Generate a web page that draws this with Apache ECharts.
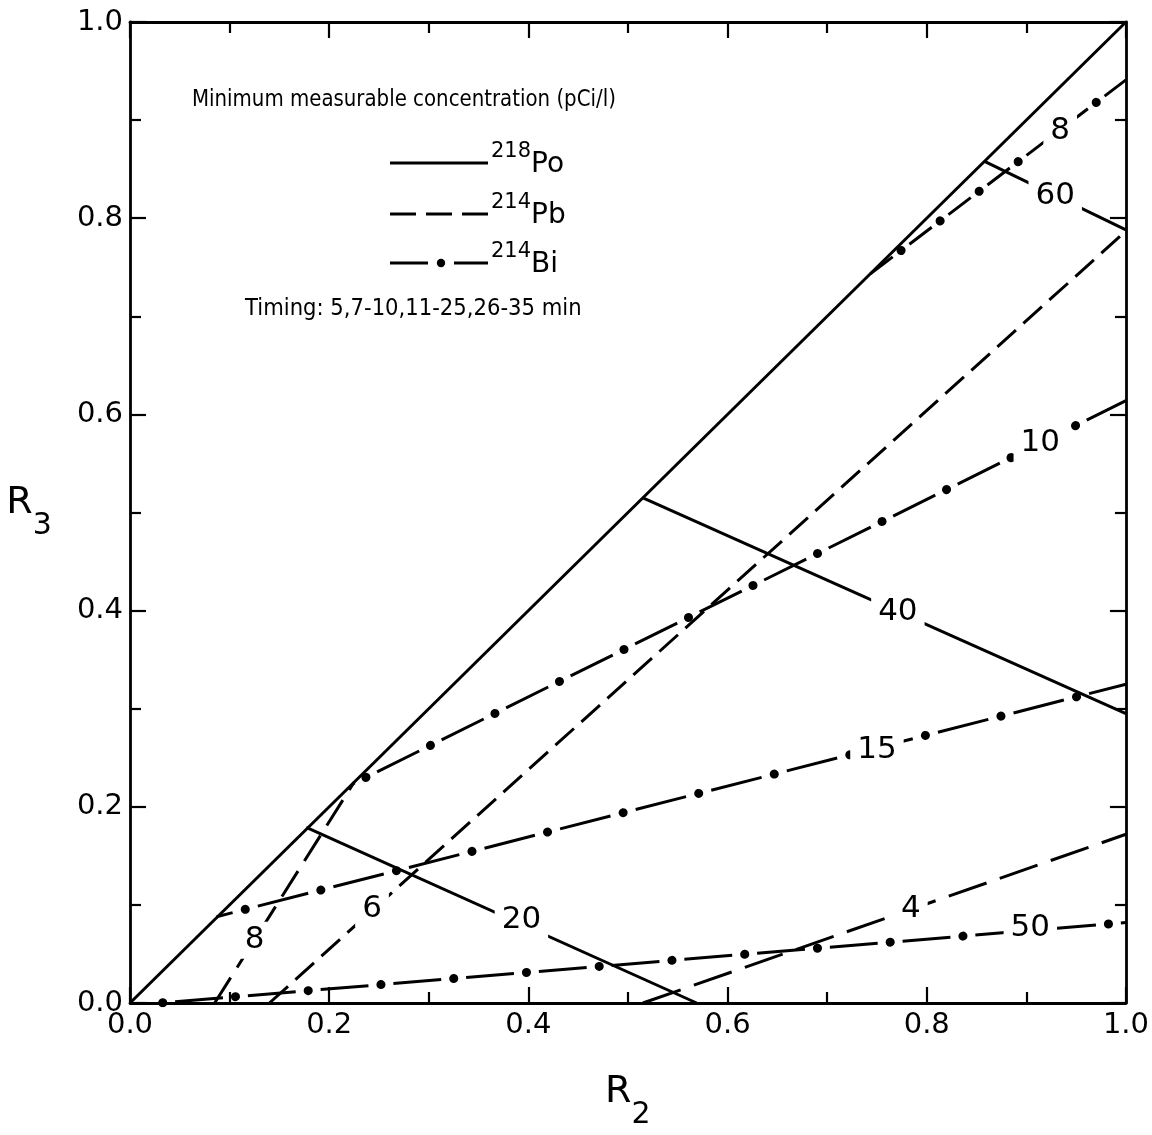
<!DOCTYPE html>
<html><head><meta charset="utf-8">
<script src="https://cdn.jsdelivr.net/npm/echarts@6/dist/echarts.min.js"></script>
<style>html,body{margin:0;padding:0;background:#fff}#c{width:1152px;height:1135px}</style>
</head><body><div id="c"></div>
<script>
// ---- data ----
const tickLabels = ['0.0', '0.2', '0.4', '0.6', '0.8', '1.0'];
// 218Po (solid)
const po218_diag = [[0, 0], [1, 1]];
const po218_20 = [[0.177, 0.179], [0.569, 0]];
const po218_40 = [[0.515, 0.515], [1.0, 0.295]];
const po218_60 = [[0.858, 0.858], [1.0, 0.788]];
// 214Pb (dashed)
const pb214_8 = [[0.085, 0], [0.225, 0.225]];
const pb214_6 = [[0.14, 0], [1.0, 0.787]];
const pb214_4 = [[0.515, 0], [1.0, 0.172]];
// 214Bi (dash-dot)
const bi214_8 = [[0.743, 0.743], [1.0, 0.941]];
const bi214_10 = [[0.223, 0.223], [1.0, 0.614]];
const bi214_15 = [[0.087, 0.088], [1.0, 0.325]];
const bi214_50 = [[0.03, 0], [1.0, 0.082]];
// contour labels
const contourText = ['8', '6', '20', '4', '50', '15', '10', '40', '8', '60'];
const contourX = [0.125, 0.243, 0.393, 0.784, 0.904, 0.75, 0.914, 0.771, 0.934, 0.929];
const contourY = [0.064, 0.096, 0.085, 0.096, 0.076, 0.258, 0.571, 0.399, 0.889, 0.823];

const FONT = 'DejaVu Sans';
const BLACK = '#000';
const LW = 3;

function axis(pos, isX, showLabel) {
  return {
    type: 'value', min: 0, max: 1, interval: 0.2, position: pos,
    axisLine: { show: true, onZero: false, lineStyle: { color: BLACK, width: 2.8 } },
    axisTick: { show: true, inside: true, length: 16, lineStyle: { color: BLACK, width: 2.2 } },
    minorTick: { show: true, splitNumber: 2, length: 11, lineStyle: { color: BLACK, width: 2.2 } },
    splitLine: { show: false }, minorSplitLine: { show: false },
    axisLabel: {
      show: showLabel, color: BLACK, fontSize: 29, fontFamily: FONT, margin: isX ? 8 : 7,
      formatter: v => tickLabels[Math.round(v / 0.2)]
    }
  };
}

const nameRich = {
  r: { fontSize: 38, fontFamily: FONT, color: BLACK, lineHeight: 40, verticalAlign: 'top' },
  s: { fontSize: 30, fontFamily: FONT, color: BLACK, lineHeight: 40, verticalAlign: 'bottom' },
  h: { fontSize: 1, lineHeight: 57 }
};
const xBottom = axis('bottom', true, true);
xBottom.name = '{r|R}{s|2}{h| }';
xBottom.nameLocation = 'middle';
xBottom.nameGap = 70;
xBottom.nameTextStyle = { rich: nameRich };
const xTop = axis('top', true, false);
const yLeft = axis('left', false, true);
yLeft.name = '{r|R}{s|3}{h| }';
yLeft.nameLocation = 'middle';
yLeft.nameRotate = 0;
yLeft.nameGap = 78;
yLeft.nameTextStyle = { align: 'right', rich: nameRich };
const yRight = axis('right', false, false);

function solid(data) {
  return { type: 'line', data, showSymbol: false, silent: true, z: 3,
    lineStyle: { color: BLACK, width: LW, type: 'solid' } };
}
function dashed(data, pat) {
  return { type: 'line', data, showSymbol: false, silent: true, z: 3,
    lineStyle: { color: BLACK, width: LW, type: pat } };
}
function dashPart(data, pat, off) {
  return { type: 'line', data, showSymbol: false, silent: true, z: 3,
    lineStyle: { color: BLACK, width: LW, type: pat, dashOffset: off } };
}
function dotPart(data, period, off) {
  return { type: 'line', data, showSymbol: false, silent: true, z: 3,
    lineStyle: { color: BLACK, width: 9, type: [0.1, period - 0.1], dashOffset: off, cap: 'round' } };
}

const series = [
  solid(po218_diag), solid(po218_20), solid(po218_40), solid(po218_60),
  dashed(pb214_8, [30, 12]), dashed(pb214_6, [25, 10]), dashed(pb214_4, [40, 14]),
  dashPart(bi214_8, [28, 21], 48.5), dotPart(bi214_8, 49, 10),
  dashPart(bi214_10, [47, 25], 44.1), dotPart(bi214_10, 72, 56.6),
  dashPart(bi214_15, [52, 26], 35.5), dotPart(bi214_15, 78, 48.5),
  dashPart(bi214_50, [48, 25], 57.7), dotPart(bi214_50, 73, 70.2),
  {
    type: 'scatter', silent: true, z: 10, symbol: 'circle', symbolSize: 1,
    itemStyle: { color: 'rgba(255,255,255,0)', opacity: 1 },
    data: contourText.map((t, i) => ({ value: [contourX[i], contourY[i]], name: t })),
    label: {
      show: true, position: 'inside', formatter: p => p.name, opacity: 1,
      fontSize: 31, fontFamily: FONT, color: BLACK,
      backgroundColor: '#fff', padding: [3, 7]
    }
  }
];

const supRich = {
  a: { fontSize: 21, fontFamily: FONT, fill: BLACK, lineHeight: 22, verticalAlign: 'top' },
  b: { fontSize: 28, fontFamily: FONT, fill: BLACK, lineHeight: 28, verticalAlign: 'bottom' },
  h: { fontSize: 1, lineHeight: 38 }
};

const graphic = [
  { type: 'text', x: 192, y: 100, scaleX: 0.86, silent: true,
    style: { text: 'Minimum measurable concentration (pCi/l)', font: '23px "DejaVu Sans"', fill: BLACK, textVerticalAlign: 'middle' } },
  { type: 'line', silent: true, shape: { x1: 390, y1: 163, x2: 488, y2: 163 }, style: { stroke: BLACK, lineWidth: 3 } },
  { type: 'line', silent: true, shape: { x1: 390, y1: 214, x2: 488, y2: 214 }, style: { stroke: BLACK, lineWidth: 3, lineDash: [26, 10] } },
  { type: 'line', silent: true, shape: { x1: 390, y1: 263, x2: 428, y2: 263 }, style: { stroke: BLACK, lineWidth: 3 } },
  { type: 'circle', silent: true, shape: { cx: 441, cy: 263, r: 4.2 }, style: { fill: BLACK } },
  { type: 'line', silent: true, shape: { x1: 454, y1: 263, x2: 488, y2: 263 }, style: { stroke: BLACK, lineWidth: 3 } },
  { type: 'text', x: 491, y: 160, silent: true,
    style: { text: '{a|218}{b|Po}{h| }', rich: supRich, textVerticalAlign: 'middle' } },
  { type: 'text', x: 491, y: 211, silent: true,
    style: { text: '{a|214}{b|Pb}{h| }', rich: supRich, textVerticalAlign: 'middle' } },
  { type: 'text', x: 491, y: 260, silent: true,
    style: { text: '{a|214}{b|Bi}{h| }', rich: supRich, textVerticalAlign: 'middle' } },
  { type: 'text', x: 245, y: 309, scaleX: 0.92, silent: true,
    style: { text: 'Timing: 5,7-10,11-25,26-35 min', font: '23px "DejaVu Sans"', fill: BLACK, textVerticalAlign: 'middle' } }
];

const chart = echarts.init(document.getElementById('c'), null, { renderer: 'canvas' });
chart.setOption({
  backgroundColor: '#fff',
  animation: false,
  grid: { left: 130, right: 23, top: 22, bottom: 122, containLabel: false },
  xAxis: [xBottom, xTop],
  yAxis: [yLeft, yRight],
  series,
  graphic
});
</script></body></html>
